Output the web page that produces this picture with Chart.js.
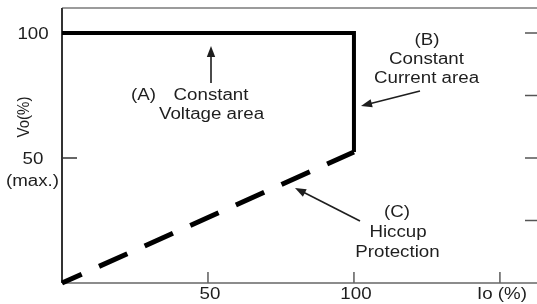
<!DOCTYPE html>
<html>
<head>
<meta charset="utf-8">
<script src="https://cdn.jsdelivr.net/npm/chart.js@4"></script>
<style>
html,body{margin:0;padding:0;background:#fff;}
#wrap{width:537px;height:304px;position:relative;}
</style>
</head>
<body>
<div id="wrap"><canvas id="c" width="537" height="304"></canvas></div>
<script>
// ---- data ----
const cvX = [0, 100, 100];          // Io (%) constant voltage / constant current path
const cvY = [100, 100, 52.4];       // Vo (%)
const hiccupX = [0, 100];           // hiccup protection path
const hiccupY = [0, 52.4];
const xTickValues = [50, 100, 150];
const xTickLabels = ['50', '100', 'Io (%)'];
const yTickValues = [100, 50];
const yTickLabels = ['100', '50'];
const yRightTicks = [100, 75, 50, 25];
const yAxisTitle = 'Vo(%)';
const yMaxNote = '(max.)';

const FONT = '16px "Liberation Sans", Arial, sans-serif';
const SX = 1.17;
const INK = '#1e1e1e';

function txt(ctx, s, x, y, align) {
  ctx.save();
  ctx.translate(x, y);
  ctx.scale(SX, 1);
  ctx.font = FONT;
  ctx.fillStyle = INK;
  ctx.textAlign = align || 'center';
  ctx.textBaseline = 'alphabetic';
  ctx.fillText(s, 0, 6);
  ctx.restore();
}
function arrow(ctx, x1, y1, x2, y2) {
  const a = Math.atan2(y2 - y1, x2 - x1);
  const L = 11, W = 4.2;
  ctx.save();
  ctx.strokeStyle = INK; ctx.fillStyle = INK; ctx.lineWidth = 1.6;
  ctx.beginPath();
  ctx.moveTo(x1, y1);
  ctx.lineTo(x2 - Math.cos(a) * (L - 2), y2 - Math.sin(a) * (L - 2));
  ctx.stroke();
  ctx.beginPath();
  ctx.moveTo(x2, y2);
  ctx.lineTo(x2 - L * Math.cos(a) + W * Math.sin(a), y2 - L * Math.sin(a) - W * Math.cos(a));
  ctx.lineTo(x2 - L * Math.cos(a) - W * Math.sin(a), y2 - L * Math.sin(a) + W * Math.cos(a));
  ctx.closePath();
  ctx.fill();
  ctx.restore();
}

const framePlugin = {
  id: 'frame',
  beforeDatasetsDraw(chart) {
    const ctx = chart.ctx, a = chart.chartArea;
    const xs = chart.scales.x, ys = chart.scales.y;
    ctx.save();
    // top border
    ctx.strokeStyle = '#7a7a7a'; ctx.lineWidth = 1.5;
    ctx.beginPath(); ctx.moveTo(a.left, a.top); ctx.lineTo(a.right, a.top); ctx.stroke();
    // bottom axis
    ctx.strokeStyle = '#666'; ctx.lineWidth = 1.6;
    ctx.beginPath(); ctx.moveTo(a.left, a.bottom); ctx.lineTo(a.right, a.bottom); ctx.stroke();
    // x ticks (inward)
    xTickValues.forEach(v => {
      const px = xs.getPixelForValue(v);
      ctx.beginPath(); ctx.moveTo(px, a.bottom); ctx.lineTo(px, a.bottom - 11); ctx.stroke();
    });
    // right ticks
    ctx.strokeStyle = '#555'; ctx.lineWidth = 1.5;
    yRightTicks.forEach(v => {
      const py = ys.getPixelForValue(v);
      ctx.beginPath(); ctx.moveTo(a.right, py); ctx.lineTo(a.right - 12, py); ctx.stroke();
    });
    // left axis
    ctx.strokeStyle = '#333'; ctx.lineWidth = 2;
    ctx.beginPath(); ctx.moveTo(a.left, a.top); ctx.lineTo(a.left, a.bottom); ctx.stroke();
    yTickValues.forEach(v => {
      const py = ys.getPixelForValue(v);
      ctx.lineWidth = 1.5;
      ctx.beginPath(); ctx.moveTo(a.left, py); ctx.lineTo(a.left + 15, py); ctx.stroke();
    });
    ctx.restore();
  },
  afterDatasetsDraw(chart) {
    const ctx = chart.ctx, a = chart.chartArea;
    const xs = chart.scales.x, ys = chart.scales.y;
    // y tick labels
    yTickValues.forEach((v, i) => txt(ctx, yTickLabels[i], a.left - 29, ys.getPixelForValue(v), 'center'));
    txt(ctx, yMaxNote, a.left - 29.5, ys.getPixelForValue(50) + 22, 'center');
    // y axis title (rotated)
    ctx.save();
    ctx.translate(24, 117);
    ctx.rotate(-Math.PI / 2);
    ctx.scale(1, 1.1);
    ctx.font = '15px "Liberation Sans", Arial, sans-serif';
    ctx.fillStyle = INK; ctx.textAlign = 'center'; ctx.textBaseline = 'middle';
    ctx.fillText(yAxisTitle, 0, 0);
    ctx.restore();
    // x tick labels
    xTickValues.forEach((v, i) => txt(ctx, xTickLabels[i], xs.getPixelForValue(v) + 2, a.bottom + 10, 'center'));
    // annotation A
    txt(ctx, '(A)', 143.5, 94, 'center');
    txt(ctx, 'Constant', 211, 94, 'center');
    txt(ctx, 'Voltage area', 211.5, 112.5, 'center');
    arrow(ctx, 211, 83, 211, 46);
    // annotation B
    txt(ctx, '(B)', 427, 39, 'center');
    txt(ctx, 'Constant', 426.5, 58, 'center');
    txt(ctx, 'Current area', 426.5, 77, 'center');
    arrow(ctx, 420, 91, 361, 106);
    // annotation C
    txt(ctx, '(C)', 397, 211, 'center');
    txt(ctx, 'Hiccup', 398, 231, 'center');
    txt(ctx, 'Protection', 397.5, 251, 'center');
    arrow(ctx, 360, 221, 295, 188);
  }
};

new Chart(document.getElementById('c'), {
  type: 'line',
  data: {
    datasets: [
      {
        data: cvX.map((x, i) => ({ x: x, y: cvY[i] })),
        borderColor: '#000', borderWidth: 4, borderJoinStyle: 'miter',
        pointRadius: 0, tension: 0, fill: false, clip: false
      },
      {
        data: hiccupX.map((x, i) => ({ x: x, y: hiccupY[i] })),
        borderColor: '#000', borderWidth: 5, borderDash: [31, 19], borderDashOffset: 9.4,
        borderCapStyle: 'butt', pointRadius: 0, tension: 0, fill: false, clip: false
      }
    ]
  },
  options: {
    responsive: false,
    animation: false,
    events: [],
    layout: { padding: { left: 62, top: 8, right: 0, bottom: 21 } },
    plugins: { legend: { display: false }, tooltip: { enabled: false } },
    scales: {
      x: { type: 'linear', min: 0, max: 162.7, display: false },
      y: { type: 'linear', min: 0, max: 110, display: false }
    }
  },
  plugins: [framePlugin]
});
</script>
</body>
</html>
